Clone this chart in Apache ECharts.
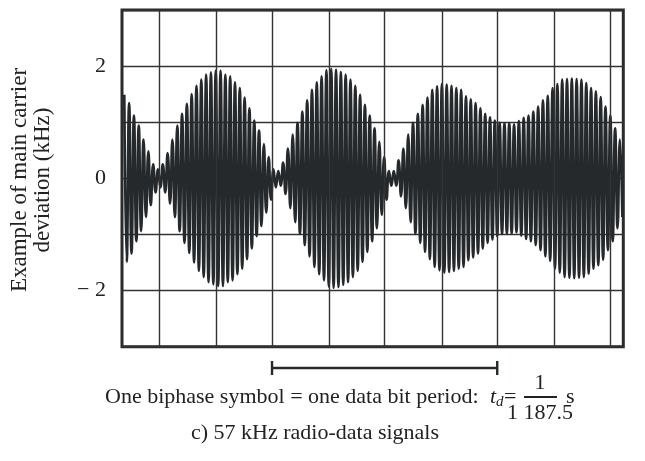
<!DOCTYPE html>
<html>
<head>
<meta charset="utf-8">
<script src="https://cdn.jsdelivr.net/npm/echarts@6/dist/echarts.min.js"></script>
<style>
  html, body { margin: 0; padding: 0; background: #fff; }
  #chart { width: 645px; height: 461px; }
</style>
</head>
<body>
<div id="chart"></div>
<script>
// peak deviation of each 57 kHz carrier cycle (kHz), read left to right
const peakAmps = [
  1.49, 1.34, 1.12, 0.94, 0.69, 0.48, 0.25, 0.16, 0.25, 0.45,
  0.69, 0.94, 1.15, 1.33, 1.50, 1.65, 1.76, 1.85, 1.89, 1.92,
  1.92, 1.85, 1.82, 1.71, 1.61, 1.44, 1.25, 1.03, 0.85, 0.61,
  0.38, 0.16, 0.13, 0.28, 0.53, 0.78, 0.99, 1.19, 1.39, 1.58,
  1.71, 1.82, 1.93, 1.95, 1.94, 1.90, 1.85, 1.76, 1.65, 1.49,
  1.31, 1.12, 0.89, 0.65, 0.38, 0.13, 0.13, 0.32, 0.53, 0.78,
  0.99, 1.15, 1.31, 1.44, 1.58, 1.64, 1.68, 1.67, 1.65, 1.61,
  1.58, 1.46, 1.41, 1.34, 1.25, 1.15, 1.09, 1.03, 0.99, 0.98,
  0.98, 0.96, 1.02, 1.08, 1.12, 1.19, 1.28, 1.39, 1.47, 1.61,
  1.68, 1.76, 1.77, 1.78, 1.77, 1.76, 1.70, 1.61, 1.55, 1.45,
  1.28, 1.12, 0.89, 0.69
]
// vertical grid lines, in carrier cycles
const gridX = [7.2, 19.1, 30.7, 42.6, 54.1, 66.0, 77.5, 89.3, 100.9]
const yTicks = [-2, 0, 2]

const FONT = '"Liberation Serif", "Times New Roman", serif'
const INK = '#25292c'

// each cycle: positive peak then negative peak
const signal = []
peakAmps.forEach((a, i) => {
  signal.push([i, a])
  signal.push([i + 0.5, -a])
})

const chart = echarts.init(document.getElementById('chart'))
chart.setOption({
  animation: false,
  grid: {
    left: 122,
    top: 10,
    right: 21.7,
    bottom: 114.3,
    show: true,
    borderColor: '#2b2b2b',
    borderWidth: 3
  },
  xAxis: {
    type: 'value',
    min: -0.48,
    max: 103.7,
    show: false
  },
  yAxis: {
    type: 'value',
    min: -3,
    max: 3,
    interval: 1,
    axisLine: { show: false },
    axisTick: { show: false },
    splitLine: { lineStyle: { color: '#333', width: 1.4 } },
    axisLabel: {
      margin: 16,
      color: '#222',
      fontFamily: FONT,
      fontSize: 22,
      formatter: (v) => {
        if (!yTicks.includes(v)) return ''
        return v < 0 ? '\u2212 ' + -v : String(v)
      }
    }
  },
  series: [
    {
      type: 'line',
      z: 1,
      silent: true,
      showSymbol: false,
      lineStyle: { width: 0 },
      data: [[gridX[0], 0]],
      markLine: {
        silent: true,
        symbol: ['none', 'none'],
        label: { show: false },
        lineStyle: { type: 'solid', color: '#333', width: 1.4 },
        data: gridX.map((x) => ({ xAxis: x }))
      }
    },
    {
      type: 'line',
      z: 3,
      silent: true,
      smooth: true,
      showSymbol: false,
      lineStyle: { color: INK, width: 2.6 },
      data: signal
    }
  ]
})

// one data bit period spans four grid divisions
const p0 = chart.convertToPixel({ gridIndex: 0 }, [gridX[2], 0])
const p1 = chart.convertToPixel({ gridIndex: 0 }, [gridX[6], 0])
const barY = 368

const txt = (x, y, text, extra) => ({
  type: 'text',
  x: x,
  y: y,
  style: Object.assign({
    text: text,
    fill: '#222',
    font: '22px ' + FONT,
    textAlign: 'left',
    textVerticalAlign: 'middle'
  }, extra || {})
})

chart.setOption({
  graphic: [
    { type: 'line', shape: { x1: p0[0], y1: barY, x2: p1[0], y2: barY }, style: { stroke: INK, lineWidth: 2.4 } },
    { type: 'line', shape: { x1: p0[0], y1: barY - 7, x2: p0[0], y2: barY + 7 }, style: { stroke: INK, lineWidth: 2.4 } },
    { type: 'line', shape: { x1: p1[0], y1: barY - 7, x2: p1[0], y2: barY + 7 }, style: { stroke: INK, lineWidth: 2.4 } },
    txt(105, 397, 'One biphase symbol = one data bit period:'),
    txt(490, 397, 't', { font: 'italic 22px ' + FONT }),
    txt(496, 402, 'd', { font: 'italic 15px ' + FONT }),
    txt(504, 397, '='),
    { type: 'line', shape: { x1: 524, y1: 397, x2: 557, y2: 397 }, style: { stroke: '#222', lineWidth: 2 } },
    txt(540, 383, '1', { textAlign: 'center' }),
    txt(540, 413, '1 187.5', { textAlign: 'center' }),
    txt(566, 397, 's'),
    txt(315, 433, 'c) 57 kHz radio-data signals', { textAlign: 'center' }),
    Object.assign(txt(20, 180, 'Example of main carrier', { textAlign: 'center', font: '23px ' + FONT }), { rotation: Math.PI / 2 }),
    Object.assign(txt(43, 180, 'deviation (kHz)', { textAlign: 'center', font: '23px ' + FONT }), { rotation: Math.PI / 2 })
  ]
})
</script>
</body>
</html>
